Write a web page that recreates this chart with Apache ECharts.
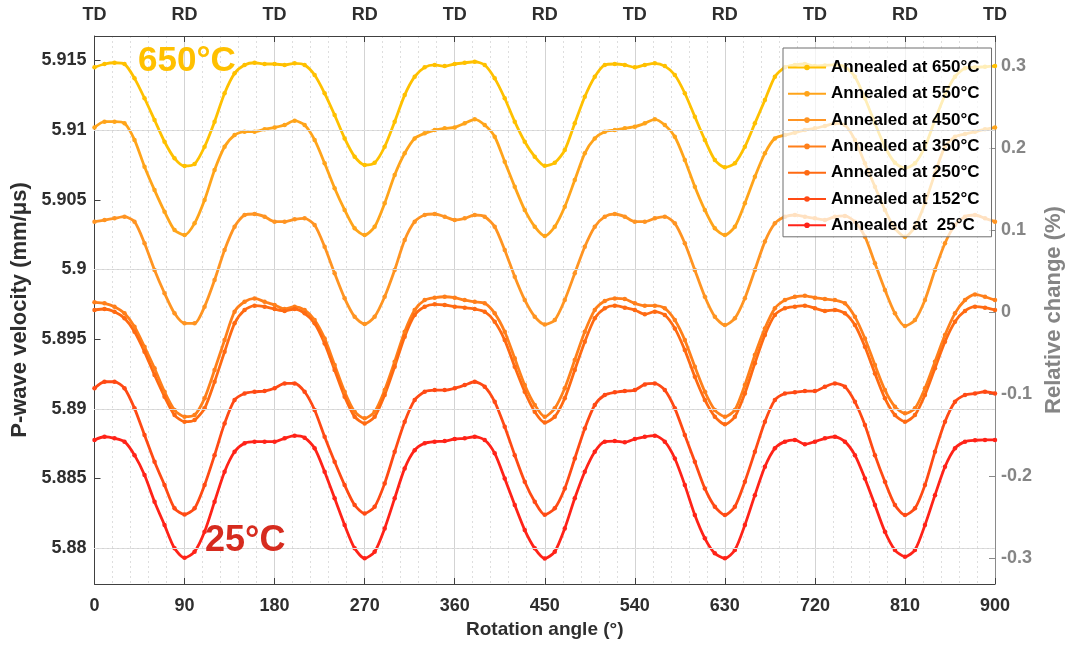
<!DOCTYPE html>
<html><head><meta charset="utf-8">
<script src="https://cdn.jsdelivr.net/npm/echarts@6/dist/echarts.min.js"></script>
<style>html,body{margin:0;padding:0;background:#fff}#c{width:1066px;height:651px}</style>
</head><body><div id="c"></div>
<script>
const angles = [0,10,20,30,40,50,60,70,80,90,100,110,120,130,140,150,160,170,180,190,200,210,220,230,240,250,260,270,280,290,300,310,320,330,340,350,360,370,380,390,400,410,420,430,440,450,460,470,480,490,500,510,520,530,540,550,560,570,580,590,600,610,620,630,640,650,660,670,680,690,700,710,720,730,740,750,760,770,780,790,800,810,820,830,840,850,860,870,880,890,900];

const seriesNames = ['Annealed at 650°C','Annealed at 550°C','Annealed at 450°C','Annealed at 350°C','Annealed at 250°C','Annealed at 152°C','Annealed at  25°C'];
const seriesColors = ['#FFC000','#FFA41A','#FF9422','#FF7F1A','#FF6A12','#FF4A14','#FF2318'];

const v650 = [5.91451,5.91475,5.91484,5.91475,5.91372,5.91229,5.91073,5.90917,5.90798,5.90743,5.90757,5.90881,5.91061,5.91265,5.91408,5.91468,5.91484,5.91475,5.91475,5.91468,5.9148,5.91468,5.91396,5.91265,5.91109,5.90941,5.9081,5.9075,5.90766,5.90881,5.91061,5.91252,5.91384,5.91451,5.91468,5.9146,5.91475,5.91484,5.91491,5.91468,5.91372,5.91229,5.91061,5.90917,5.9081,5.90744,5.90766,5.90857,5.91049,5.9124,5.91384,5.91468,5.91475,5.91468,5.91451,5.91468,5.9148,5.9146,5.91396,5.91265,5.91097,5.9093,5.90786,5.90733,5.90762,5.90881,5.91049,5.91216,5.91384,5.91451,5.91468,5.91475,5.9146,5.91465,5.91468,5.91455,5.91384,5.91229,5.91049,5.90881,5.90766,5.90726,5.90762,5.90881,5.91073,5.91252,5.91384,5.91444,5.91451,5.91455,5.9146];
const v550 = [5.9102,5.91061,5.91061,5.91049,5.9093,5.90738,5.9057,5.90415,5.90283,5.90247,5.90331,5.90499,5.90714,5.90881,5.90965,5.90989,5.90989,5.91006,5.9102,5.91037,5.91068,5.91037,5.9093,5.90762,5.90583,5.90427,5.90295,5.90247,5.90307,5.90475,5.90678,5.90834,5.90941,5.90977,5.91001,5.91013,5.9102,5.91049,5.91078,5.91037,5.90953,5.90774,5.90594,5.90427,5.90307,5.9024,5.90307,5.9045,5.90642,5.90834,5.90941,5.90989,5.91001,5.91013,5.91025,5.91049,5.91078,5.91037,5.90953,5.90786,5.90594,5.90427,5.90295,5.90247,5.90307,5.90475,5.90666,5.90834,5.90941,5.90965,5.90982,5.91001,5.91013,5.9103,5.91049,5.91037,5.9093,5.90762,5.90594,5.90427,5.90295,5.90235,5.90307,5.90475,5.9069,5.90881,5.90953,5.90972,5.90989,5.91006,5.9102];
const v450 = [5.90343,5.90355,5.90367,5.90379,5.90343,5.90188,5.89996,5.89829,5.89685,5.89613,5.89613,5.89733,5.89924,5.9014,5.90307,5.90391,5.90398,5.90379,5.90343,5.90343,5.9036,5.90367,5.90319,5.90163,5.89972,5.89793,5.89661,5.89608,5.89661,5.89804,5.89996,5.90211,5.90343,5.90391,5.90398,5.90379,5.90355,5.90367,5.90391,5.90379,5.90307,5.9014,5.89948,5.89781,5.89661,5.89605,5.89637,5.89781,5.89972,5.90163,5.90307,5.90379,5.90398,5.90379,5.90343,5.90343,5.90367,5.90379,5.90331,5.90188,5.89996,5.89804,5.89661,5.89601,5.89649,5.89793,5.89996,5.902,5.90331,5.90379,5.90391,5.90379,5.90367,5.90355,5.90379,5.90384,5.90343,5.90235,5.90044,5.89853,5.89685,5.89594,5.89637,5.89781,5.89996,5.90188,5.90319,5.90379,5.90391,5.90367,5.90343];
const v350 = [5.89764,5.89757,5.89733,5.89685,5.89589,5.89445,5.8929,5.89122,5.88991,5.88943,5.88955,5.89075,5.89278,5.89493,5.89697,5.89768,5.89792,5.89768,5.89745,5.89716,5.89733,5.89709,5.89637,5.89505,5.89314,5.89122,5.88979,5.88931,5.88979,5.89134,5.89338,5.89553,5.89709,5.8978,5.89797,5.89804,5.89797,5.8978,5.89768,5.89757,5.89685,5.89553,5.89362,5.8917,5.89027,5.88943,5.89003,5.89147,5.8935,5.89553,5.89709,5.89773,5.89792,5.89788,5.89757,5.8974,5.8974,5.89721,5.89637,5.89493,5.89302,5.89122,5.88991,5.88943,5.88991,5.8917,5.89386,5.89577,5.89721,5.8978,5.89804,5.89811,5.89797,5.89788,5.8978,5.89757,5.8966,5.89505,5.89314,5.89134,5.89015,5.88967,5.89003,5.89147,5.89338,5.89529,5.89685,5.8978,5.89821,5.89804,5.8978];
const v250 = [5.89709,5.89716,5.89697,5.89649,5.89553,5.89409,5.89242,5.89087,5.88955,5.88907,5.88919,5.89003,5.89194,5.89409,5.89613,5.89709,5.8974,5.89733,5.89716,5.89702,5.89716,5.89685,5.89613,5.89469,5.89278,5.89087,5.88943,5.88895,5.88943,5.89099,5.89302,5.89517,5.89673,5.89733,5.8975,5.89745,5.89733,5.89726,5.89716,5.89697,5.89625,5.89493,5.89302,5.89122,5.88979,5.88901,5.88943,5.89075,5.89278,5.89481,5.89649,5.89721,5.8974,5.89726,5.89709,5.89678,5.89697,5.89673,5.89577,5.89421,5.8923,5.89063,5.88943,5.88888,5.88943,5.8911,5.89326,5.89529,5.89673,5.89721,5.89733,5.8974,5.89721,5.89702,5.89709,5.89685,5.89601,5.89445,5.89254,5.89075,5.88955,5.88907,5.88955,5.89099,5.8929,5.89481,5.89625,5.89702,5.89733,5.89726,5.89709];
const v152 = [5.89147,5.89194,5.89194,5.89147,5.89003,5.88811,5.8862,5.88452,5.88285,5.88241,5.88285,5.88452,5.88667,5.88895,5.89063,5.8911,5.89122,5.89127,5.89147,5.89182,5.89182,5.89122,5.88991,5.88799,5.8862,5.88452,5.88309,5.88249,5.88297,5.88464,5.88691,5.88907,5.89063,5.89122,5.89134,5.89134,5.89147,5.8917,5.89194,5.89158,5.8905,5.88871,5.88667,5.88476,5.88333,5.88239,5.88285,5.88428,5.88643,5.88859,5.89027,5.89099,5.89118,5.89127,5.89134,5.89175,5.89182,5.89134,5.89003,5.88811,5.8862,5.88428,5.88297,5.88237,5.88297,5.88476,5.88691,5.88907,5.89063,5.8911,5.89118,5.89127,5.89127,5.89158,5.89182,5.89158,5.8905,5.88883,5.88667,5.88476,5.88309,5.88237,5.88285,5.88452,5.88691,5.88907,5.8905,5.89099,5.8911,5.89122,5.8911];
const v25 = [5.88776,5.88799,5.88788,5.88764,5.88667,5.88524,5.88333,5.88165,5.87998,5.8793,5.87974,5.88117,5.88333,5.88548,5.88691,5.88752,5.88764,5.88764,5.88764,5.88788,5.88807,5.88792,5.88716,5.88548,5.88357,5.88165,5.87998,5.87926,5.87974,5.88141,5.88357,5.88572,5.88703,5.88752,5.88764,5.88768,5.88783,5.88788,5.88799,5.88776,5.8868,5.885,5.88309,5.88129,5.87998,5.87925,5.87974,5.88141,5.88357,5.88548,5.88691,5.88764,5.88768,5.88759,5.88783,5.88799,5.88807,5.88764,5.88643,5.88452,5.88237,5.8807,5.87962,5.87926,5.87986,5.88165,5.8838,5.88584,5.88716,5.88764,5.88776,5.88745,5.88764,5.88788,5.88799,5.88764,5.88667,5.885,5.88309,5.88117,5.87986,5.87938,5.87986,5.88165,5.8838,5.88584,5.88716,5.88764,5.88774,5.88776,5.88776];

const leftTicks = [5.88,5.885,5.89,5.895,5.9,5.905,5.91,5.915];
const rightTicks = [-0.3,-0.2,-0.1,0,0.1,0.2,0.3];
const topLabels = ['TD','RD','TD','RD','TD','RD','TD','RD','TD','RD','TD'];

const yMin = 5.87742, yMax = 5.91676, vRef = 5.89694;
const relMin = (yMin / vRef - 1) * 100, relMax = (yMax / vRef - 1) * 100;

const FONT = '"Liberation Sans", Arial, sans-serif';
const DARK = '#2e2e2e', GRAY = '#858585';

const allValues = [v650, v550, v450, v350, v250, v152, v25];

const majorLines = leftTicks.map(v => ({yAxis: v, lineStyle: {color: '#d3d3d3', type: 'solid', width: 1}}));
const minorLines = [];
for (let k = 5878; k <= 5916; k++) {
  if (k % 5 !== 0) minorLines.push({yAxis: k / 1000, lineStyle: {color: '#dedede', type: [2, 3], width: 1}});
}

const series = [{
  type: 'line', data: [], xAxisIndex: 0, yAxisIndex: 0, z: 1, silent: true, animation: false,
  markLine: {silent: true, symbol: ['none', 'none'], label: {show: false}, animation: false,
             emphasis: {disabled: true}, data: majorLines.concat(minorLines)}
}];
allValues.forEach((arr, i) => {
  series.push({
    type: 'line', name: seriesNames[i], xAxisIndex: 0, yAxisIndex: 0,
    data: angles.map((a, j) => [a, arr[j]]),
    symbol: 'circle', symbolSize: 4.5, showSymbol: true, smooth: 0.25,
    lineStyle: {width: 2.8, color: seriesColors[i]},
    itemStyle: {color: seriesColors[i]},
    z: 3, animation: false, emphasis: {disabled: true}
  });
});

const axisLineDark = {show: true, onZero: false, lineStyle: {color: '#404040', width: 1}};

const chart = echarts.init(document.getElementById('c'), null, {renderer: 'canvas'});
chart.setOption({
  backgroundColor: '#ffffff',
  textStyle: {fontFamily: FONT},
  grid: {left: 94.5, right: 71, top: 36, bottom: 67, containLabel: false, outerBoundsMode: 'none'},
  legend: {
    data: seriesNames, orient: 'vertical', left: 783, top: 48,
    itemWidth: 38, itemHeight: 7, itemGap: 9.3,
    padding: [11, 12, 3, 4],
    backgroundColor: 'rgba(255,255,255,0.72)', borderColor: '#6e6e6e', borderWidth: 1,
    textStyle: {fontSize: 17, fontWeight: 'bold', color: '#000', fontFamily: FONT, lineHeight: 17},
    selectedMode: false
  },
  xAxis: [{
    type: 'value', position: 'bottom', min: 0, max: 900, interval: 90,
    name: 'Rotation angle (°)', nameLocation: 'middle', nameGap: 36,
    nameTextStyle: {fontSize: 19, fontWeight: 'bold', color: DARK, fontFamily: FONT},
    axisLine: axisLineDark,
    axisTick: {show: true, inside: true, length: 6, lineStyle: {color: '#404040'}},
    axisLabel: {fontSize: 18, fontWeight: 'bold', color: DARK, margin: 13, fontFamily: FONT},
    splitLine: {show: true, lineStyle: {color: '#d3d3d3', width: 1}},
    minorTick: {show: false, splitNumber: 5},
    minorSplitLine: {show: true, lineStyle: {color: '#dedede', type: [2, 3], width: 1}}
  }, {
    type: 'value', position: 'top', min: 0, max: 900, interval: 90,
    axisLine: axisLineDark,
    axisTick: {show: true, inside: true, length: 6, lineStyle: {color: '#404040'}},
    axisLabel: {fontSize: 18, fontWeight: 'bold', color: DARK, margin: 12, fontFamily: FONT,
                formatter: v => topLabels[Math.round(v / 90)]},
    splitLine: {show: false}
  }],
  yAxis: [{
    type: 'value', position: 'left', min: yMin, max: yMax,
    name: 'P-wave velocity (mm/μs)', nameLocation: 'middle', nameGap: 58, nameRotate: 90,
    nameTextStyle: {fontSize: 22, fontWeight: 'bold', color: DARK, fontFamily: FONT},
    axisLine: axisLineDark,
    axisTick: {show: true, inside: true, length: 6, customValues: leftTicks, lineStyle: {color: '#404040'}},
    axisLabel: {fontSize: 18, fontWeight: 'bold', color: DARK, margin: 8, fontFamily: FONT,
                customValues: leftTicks, formatter: v => String(+v.toFixed(3))},
    splitLine: {show: false}
  }, {
    type: 'value', position: 'right', min: relMin, max: relMax,
    name: 'Relative change (%)', nameLocation: 'middle', nameGap: 46, nameRotate: 90,
    nameTextStyle: {fontSize: 22, fontWeight: 'bold', color: GRAY, fontFamily: FONT},
    axisLine: {show: true, onZero: false, lineStyle: {color: '#8a8a8a', width: 1}},
    axisTick: {show: true, inside: true, length: 6, customValues: rightTicks, lineStyle: {color: '#8a8a8a'}},
    axisLabel: {fontSize: 18, fontWeight: 'bold', color: GRAY, margin: 6, fontFamily: FONT,
                customValues: rightTicks, formatter: v => String(+v.toFixed(1))},
    splitLine: {show: false}
  }],
  graphic: [
    {type: 'text', left: 138, top: 44, z: 10, silent: true,
     style: {text: '650°C', fontSize: 35, fontWeight: 'bold', fill: '#FFC000', fontFamily: FONT}},
    {type: 'text', left: 205, top: 523, z: 10, silent: true,
     style: {text: '25°C', fontSize: 36, fontWeight: 'bold', fill: '#D62B1E', fontFamily: FONT}}
  ],
  series: series
});
</script></body></html>
